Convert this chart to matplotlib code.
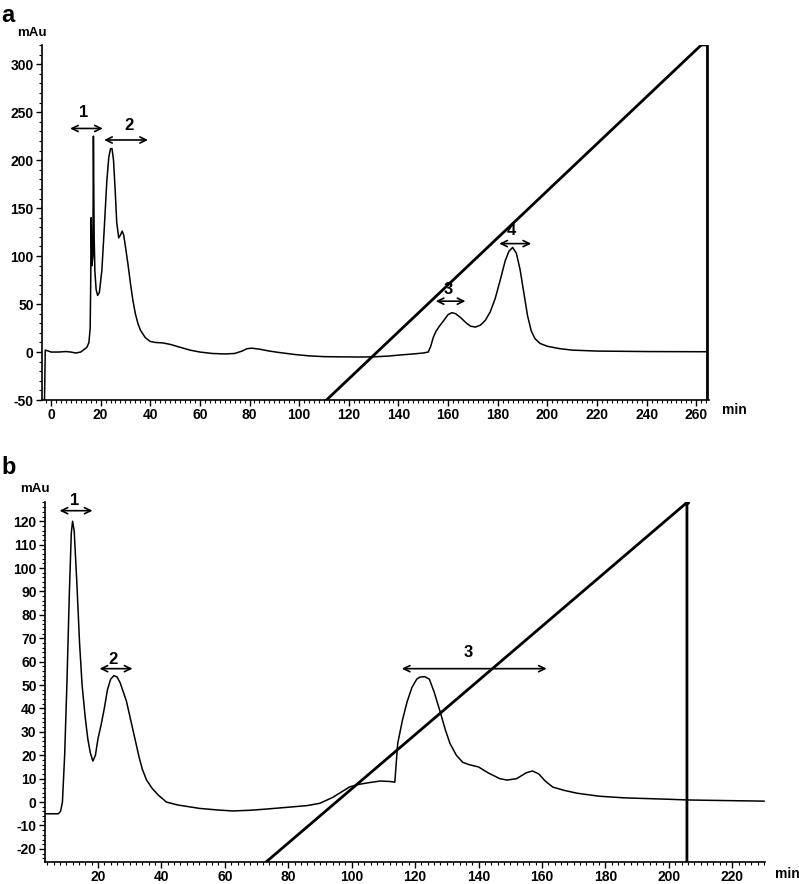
import matplotlib
matplotlib.use("Agg")
import matplotlib.pyplot as plt
from matplotlib.ticker import MultipleLocator

plt.rcParams['font.family'] = ['Liberation Sans', 'DejaVu Sans']
plt.rcParams['axes.unicode_minus'] = False

# ---- panel a: chromatogram (min, mAu) ----
time_a = [-2.6, -2.3, -1, 0, 3, 6, 8, 10, 12, 13.5, 14.5, 15.3, 15.8, 16.0, 16.2,
          16.5, 16.9, 17.1, 17.4, 17.7, 18.2, 18.8, 19.5, 20.5, 21.5, 22.5, 23.3,
          24.0, 24.6, 25.2, 25.8, 26.5, 27.3, 28, 28.7, 29.3, 30, 31, 32, 33, 34, 35, 36,
          38, 40, 42, 45, 48, 52, 56, 60, 65, 70, 74, 77, 79, 81, 84, 88, 92, 98,
          104, 110, 116, 124, 130, 136, 141, 146, 150, 152, 153, 154, 155, 156.5,
          158, 160, 161.5, 163, 165, 167, 169, 171, 173, 175, 177, 179, 181, 183,
          184.5, 186, 187.5, 189, 190.5, 192, 193.5, 195, 197, 200, 205, 210, 220, 240, 264]
mau_a = [-50, 2, 1, 0, 0, 0.5, 0, -1, 0, 3, 5, 10, 25, 70, 140,
         90, 100, 225, 120, 84, 65, 59, 62, 85, 130, 178, 203,
         212, 212, 200, 172, 135, 119, 122, 126, 122, 110, 92, 72, 54, 40, 30, 23,
         15, 11, 10, 9.5, 8, 5, 2, 0, -1.5, -2, -1.5, 1, 3.5, 4, 3, 1, -0.5, -2.5,
         -4, -4.8, -5, -5.2, -5, -4.2, -3, -2, -1, 0, 6, 15, 21, 27,
         32, 39, 41, 40, 36, 31, 27, 26, 28, 33, 42, 56, 75, 95,
         105, 109, 103, 86, 62, 38, 22, 14, 9, 6, 3.5, 2, 1, 0.5, 0.3]
grad_time_a = [111, 262, 264.5, 264.5]
grad_val_a = [-50, 320, 320, -50]
# fraction labels: arrow start, arrow end, arrow level, label position
frac_a = ["1", "2", "3", "4"]
frac_a_start = [7.7, 21.4, 155, 180.6]
frac_a_end = [20.9, 39.1, 167, 193.5]
frac_a_level = [233, 221, 53, 113]
frac_a_lx = [13.3, 31.5, 160, 185.5]
frac_a_ly = [250, 236, 65, 127]

# ---- panel b ----
time_b = [3, 7.5, 8.2, 8.8, 9.5, 10.2, 11, 11.6, 12, 12.5, 13.3, 14.2, 15, 16, 16.8,
          17.6, 18.4, 19.2, 20, 21, 22, 23, 24, 25, 26, 27, 28, 29, 30, 31, 32, 33,
          34, 35.3, 37, 39, 41.6, 45, 52, 58, 62.5, 68, 73, 80, 86, 90, 94, 97,
          99.4, 102, 105, 109, 112, 113.6, 114.5, 116, 117.5, 119, 120.5, 121.5,
          123, 124.5, 126, 127.8, 129.5, 131, 133, 135, 137, 140, 143, 146.7, 149,
          152, 155, 157, 159, 161, 163.4, 167, 171, 178, 186, 193, 200, 206, 215, 230]
mau_b = [-5, -5, -4, 0, 20, 50, 90, 115, 120, 116, 95, 68, 50, 36, 27,
         21, 17.5, 20, 27, 33, 40, 48, 52.5, 54, 53.5, 51, 47, 43, 37, 31, 25, 19,
         14, 9.5, 6, 3, 0, -1.2, -2.7, -3.4, -3.8, -3.5, -3, -2.2, -1.5, -0.5, 2, 4.5,
         6.5, 7.5, 8.2, 9, 8.8, 8.5, 25, 35, 43, 49, 52.5, 53.4,
         53.6, 52.5, 47, 39, 31, 25, 20, 17, 16, 15, 12.5, 10, 9.4,
         10, 12.5, 13.3, 12, 9, 6.4, 5, 3.8, 2.5, 1.8, 1.5, 1.2, 0.9, 0.7, 0.4]
grad_time_b = [73, 205.7, 205.7]
grad_val_b = [-25.6, 128, -25.6]
frac_b = ["1", "2", "3"]
frac_b_start = [7.9, 20.5, 115.8]
frac_b_end = [18.3, 30.9, 161.5]
frac_b_level = [124.5, 57, 57]
frac_b_lx = [12.6, 24.6, 136.6]
frac_b_ly = [128.8, 61, 63.8]

fig = plt.figure(figsize=(7.99, 8.84), dpi=100)
ax_a = fig.add_axes([0.0526, 0.5475, 0.8344, 0.4016])
ax_b = fig.add_axes([0.0563, 0.0249, 0.9011, 0.4072])


def style_axis(ax, xmaj, xmin, ymaj, ymin):
    for s in ['top', 'right']:
        ax.spines[s].set_visible(False)
    for s in ['left', 'bottom']:
        ax.spines[s].set_linewidth(1.2)
    ax.xaxis.set_major_locator(MultipleLocator(xmaj))
    ax.xaxis.set_minor_locator(MultipleLocator(xmin))
    ax.yaxis.set_major_locator(MultipleLocator(ymaj))
    ax.yaxis.set_minor_locator(MultipleLocator(ymin))
    ax.tick_params(which='major', direction='out', length=4.5, width=1.0,
                   labelsize=10, pad=1.5)
    ax.tick_params(which='minor', direction='out', length=2.3, width=0.8)
    for lab in ax.get_xticklabels() + ax.get_yticklabels():
        lab.set_fontweight('bold')


def fractions(ax, names, x0, x1, lev, lx, ly):
    for n, a, b, v, tx, ty in zip(names, x0, x1, lev, lx, ly):
        ax.annotate("", xy=(a, v), xytext=(b, v),
                    arrowprops=dict(arrowstyle='<->,head_length=0.45,head_width=0.22',
                                    lw=1.2, color='black', shrinkA=0, shrinkB=0))
        ax.text(tx, ty, n, ha='center', va='center', fontsize=12, fontweight='bold')


# panel a
ax_a.plot(time_a, mau_a, color='black', lw=1.1)
ax_a.plot(grad_time_a, grad_val_a, color='black', lw=2.0)
ax_a.set_xlim(-3.6, 265)
ax_a.set_ylim(-50, 320)
style_axis(ax_a, 20, 2, 50, 10)
fractions(ax_a, frac_a, frac_a_start, frac_a_end, frac_a_level, frac_a_lx, frac_a_ly)

# panel b
ax_b.plot(time_b, mau_b, color='black', lw=1.1)
ax_b.plot(grad_time_b, grad_val_b, color='black', lw=2.0)
ax_b.plot(grad_time_b[1], grad_val_b[1], 'o', color='black', ms=2.5)
ax_b.set_xlim(3.3, 230.3)
ax_b.set_ylim(-25.6, 128.2)
style_axis(ax_b, 20, 2, 10, 2)
fractions(ax_b, frac_b, frac_b_start, frac_b_end, frac_b_level, frac_b_lx, frac_b_ly)

# panel letters and units
fig.text(1 / 799, 1 - 22 / 884, "a", fontsize=17, fontweight='bold', va='baseline')
fig.text(32 / 799, 1 - 33 / 884, "mAu", fontsize=9.5, fontweight='bold', ha='center', va='center')
fig.text(734 / 799, 1 - 410 / 884, "min", fontsize=10, fontweight='bold', ha='center', va='center')
fig.text(1 / 799, 1 - 474 / 884, "b", fontsize=17, fontweight='bold', va='baseline')
fig.text(35 / 799, 1 - 489 / 884, "mAu", fontsize=9.5, fontweight='bold', ha='center', va='center')
fig.text(787 / 799, 1 - 874 / 884, "min", fontsize=10, fontweight='bold', ha='center', va='center')

fig.savefig("out.png", dpi=100)
